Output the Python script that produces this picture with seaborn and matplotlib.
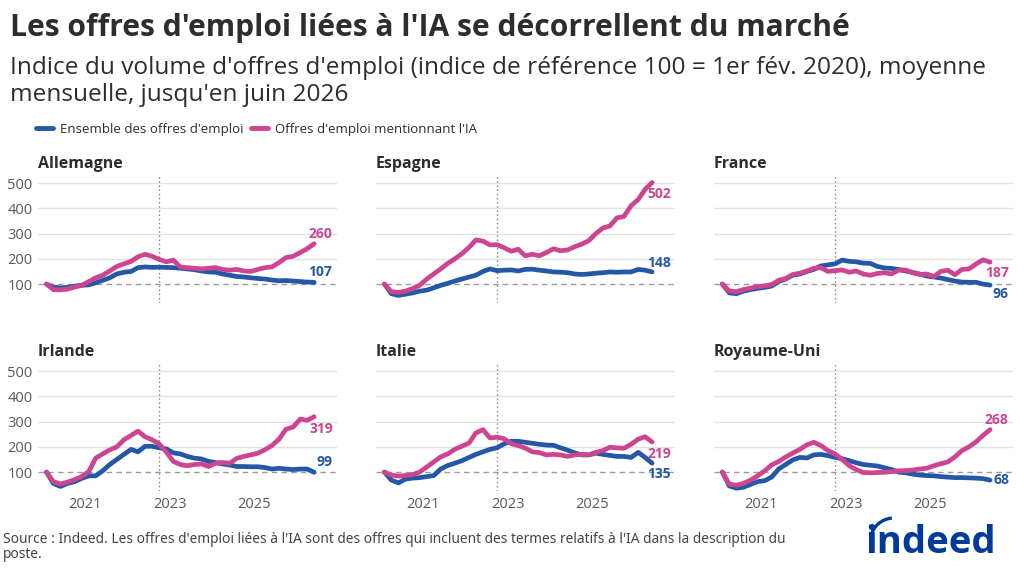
import numpy as np
import pandas as pd
import seaborn as sns
import matplotlib.pyplot as plt
from matplotlib.lines import Line2D
from matplotlib.patches import Arc
import matplotlib.dates as mdates

sns.set_theme(style="white")
plt.rcParams['font.family'] = ['Open Sans', 'Noto Sans', 'DejaVu Sans']

# bimonthly points, Feb 2020 -> Jun 2026
dates = pd.date_range("2020-02-01", "2026-06-01", freq="2MS")

countries = ["Allemagne", "Espagne", "France", "Irlande", "Italie", "Royaume-Uni"]
series_names = ["Ensemble des offres d'emploi", "Offres d'emploi mentionnant l'IA"]

allemagne_total = [100, 88, 85, 87, 92, 95, 97, 105, 115, 125, 140, 147, 150, 165, 168, 166, 167, 166, 165, 163,
                   160, 157, 152, 148, 147, 140, 135, 130, 128, 125, 122, 120, 116, 113, 114, 112, 110, 108, 107]
allemagne_ia = [100, 78, 77, 80, 88, 95, 110, 125, 135, 152, 170, 180, 190, 208, 218, 210, 198, 188, 195, 168,
                165, 163, 160, 163, 165, 158, 155, 158, 152, 150, 158, 165, 168, 185, 205, 210, 225, 240, 260]

espagne_total = [100, 62, 55, 60, 65, 72, 76, 85, 95, 103, 112, 120, 128, 135, 150, 160, 153, 155, 156, 152,
                 158, 159, 155, 152, 148, 147, 145, 140, 138, 140, 143, 145, 148, 147, 148, 148, 158, 155, 148]
espagne_ia = [100, 70, 67, 72, 82, 95, 120, 140, 160, 182, 200, 220, 245, 275, 270, 255, 256, 244, 230, 238,
              212, 218, 212, 225, 240, 232, 235, 248, 258, 272, 300, 322, 330, 362, 368, 410, 435, 475, 502]

france_total = [100, 65, 62, 72, 78, 83, 87, 92, 110, 120, 135, 140, 150, 158, 172, 176, 180, 195, 190, 188,
                183, 182, 170, 164, 162, 158, 152, 146, 140, 132, 128, 124, 118, 112, 108, 107, 107, 100, 96]
france_ia = [100, 72, 70, 78, 84, 90, 93, 98, 115, 122, 138, 143, 152, 162, 165, 150, 153, 156, 147, 152,
             140, 135, 142, 145, 140, 155, 156, 145, 138, 140, 130, 150, 155, 137, 158, 160, 180, 196, 187]

irlande_total = [100, 55, 43, 55, 62, 75, 85, 85, 105, 130, 150, 170, 190, 180, 202, 202, 196, 192, 176, 172,
                 162, 155, 152, 142, 138, 132, 128, 122, 122, 121, 121, 118, 112, 115, 112, 110, 112, 112, 99]
irlande_ia = [100, 62, 53, 60, 70, 82, 102, 155, 172, 188, 200, 228, 245, 262, 240, 228, 212, 180, 142, 130,
              125, 130, 132, 122, 135, 138, 135, 154, 162, 168, 175, 188, 205, 230, 270, 278, 310, 305, 319]

italie_total = [100, 68, 57, 72, 76, 78, 82, 86, 112, 126, 135, 145, 158, 170, 180, 190, 196, 212, 222, 222,
                218, 214, 210, 207, 206, 196, 187, 176, 168, 168, 175, 170, 166, 162, 162, 158, 178, 158, 135]
italie_ia = [100, 88, 84, 86, 90, 100, 120, 140, 160, 172, 190, 202, 215, 255, 268, 235, 238, 232, 212, 205,
             195, 180, 177, 168, 170, 168, 162, 168, 170, 168, 178, 185, 198, 196, 194, 210, 230, 240, 219]

royaume_uni_total = [100, 45, 36, 40, 51, 62, 66, 80, 112, 130, 148, 158, 156, 168, 170, 165, 158, 153, 145, 137,
                     130, 127, 124, 117, 110, 100, 97, 92, 88, 86, 85, 82, 80, 78, 78, 77, 76, 74, 68]
royaume_uni_ia = [100, 52, 48, 55, 68, 85, 105, 128, 142, 160, 175, 190, 208, 218, 205, 185, 172, 150, 125, 110,
                  98, 97, 98, 99, 102, 105, 106, 108, 112, 115, 125, 133, 140, 160, 185, 200, 220, 245, 268]

totals = [allemagne_total, espagne_total, france_total, irlande_total, italie_total, royaume_uni_total]
ias = [allemagne_ia, espagne_ia, france_ia, irlande_ia, italie_ia, royaume_uni_ia]

rows = []
for c, tot, ia in zip(countries, totals, ias):
    for d, v in zip(dates, tot):
        rows.append((c, series_names[0], d, v))
    for d, v in zip(dates, ia):
        rows.append((c, series_names[1], d, v))
df = pd.DataFrame(rows, columns=["pays", "serie", "date", "indice"])

blue = "#2557A7"
pink = "#CD4591"
palette = {series_names[0]: blue, series_names[1]: pink}
text_col = "#2d2d2d"
tick_col = "#595959"

# label offsets in pixels (total, ia)
label_offsets = {
    "Allemagne": ((6, 10), (6, 10)),
    "Espagne": ((7, 9), (7, -11)),
    "France": ((10, -9), (7, -11)),
    "Irlande": ((10, 10), (7, -12)),
    "Italie": ((7, -11), (7, -12)),
    "Royaume-Uni": ((11, 0), (6, 10)),
}

fig, axes = plt.subplots(2, 3, figsize=(10.24, 5.85), dpi=100, sharex=True, sharey=True)
fig.subplots_adjust(left=38/1024, right=1013/1024, top=1-176/585, bottom=1-491/585, wspace=0.13, hspace=0.48)

for ax, c in zip(axes.flat, countries):
    sub = df[df["pays"] == c]
    for v in [200, 300, 400, 500]:
        ax.axhline(v, color="#e2e2e2", lw=1, zorder=0)
    ax.axhline(100, color="#9a9a9a", lw=1, ls=(0, (4, 3)), zorder=1)
    ax.axvline(pd.Timestamp("2022-10-01"), color="#808080", lw=1, ls=(0, (1, 2)), zorder=1)
    sns.lineplot(data=sub, x="date", y="indice", hue="serie", palette=palette,
                 hue_order=series_names, linewidth=3.4, legend=False, ax=ax, zorder=3)
    for name, col, off in zip(series_names, [blue, pink], label_offsets[c]):
        last = sub[sub["serie"] == name].iloc[-1]
        ax.annotate(f"{last['indice']:.0f}", xy=(last["date"], last["indice"]), xytext=off,
                    textcoords="offset pixels", ha="center", va="center",
                    color=col, fontsize=10, fontweight="bold")
    ax.set_title(c, loc="left", fontsize=11.5, fontweight="bold", color=text_col, pad=6)
    ax.set_xlabel("")
    ax.set_ylabel("")
    for s in ax.spines.values():
        s.set_visible(False)
    ax.tick_params(length=0, labelsize=10.5, labelcolor=tick_col, pad=4)

ax0 = axes[0, 0]
ax0.set_ylim(25, 528)
ax0.set_yticks([100, 200, 300, 400, 500])
ax0.set_xlim(pd.Timestamp("2019-11-20"), pd.Timestamp("2026-12-16"))
ax0.set_xticks([pd.Timestamp(f"{y}-01-01") for y in (2021, 2023, 2025)])
ax0.xaxis.set_major_formatter(mdates.DateFormatter("%Y"))

fig.text(10/1024, 1-36/585, "Les offres d'emploi liées à l'IA se décorrellent du marché",
         fontsize=21.6, fontweight="bold", color=text_col, va="baseline")
fig.text(10/1024, 1-56/585,
         "Indice du volume d'offres d'emploi (indice de référence 100 = 1er fév. 2020), moyenne\nmensuelle, jusqu'en juin 2026",
         fontsize=17.6, color=text_col, va="top", linespacing=1.15)

handles = [Line2D([], [], color=blue, lw=3.5), Line2D([], [], color=pink, lw=3.5)]
fig.legend(handles, series_names, loc="center left", bbox_to_anchor=(36/1024, 1-129/585), ncol=2,
           frameon=False, fontsize=9.5, handlelength=1.3, handletextpad=0.5, columnspacing=0.6,
           labelcolor=text_col, borderpad=0, borderaxespad=0)

fig.text(3/1024, 1-532/585,
         "Source : Indeed. Les offres d'emploi liées à l'IA sont des offres qui incluent des termes relatifs à l'IA dans la description du\nposte.",
         fontsize=9.9, color="#444444", va="top", linespacing=1.0,
         family=['Liberation Sans Narrow', 'Noto Sans', 'DejaVu Sans'])

# indeed logo
fig.text(865/1024, 1-553/585, "indeed", fontsize=27.5, fontweight="bold", color="#003A9B", va="baseline")
fig.add_artist(Arc((8.94, 0.43), 0.48, 0.48, theta1=95, theta2=165, color="#003A9B", lw=2.4,
                   transform=fig.dpi_scale_trans))

fig.savefig("out.png", dpi=100)
